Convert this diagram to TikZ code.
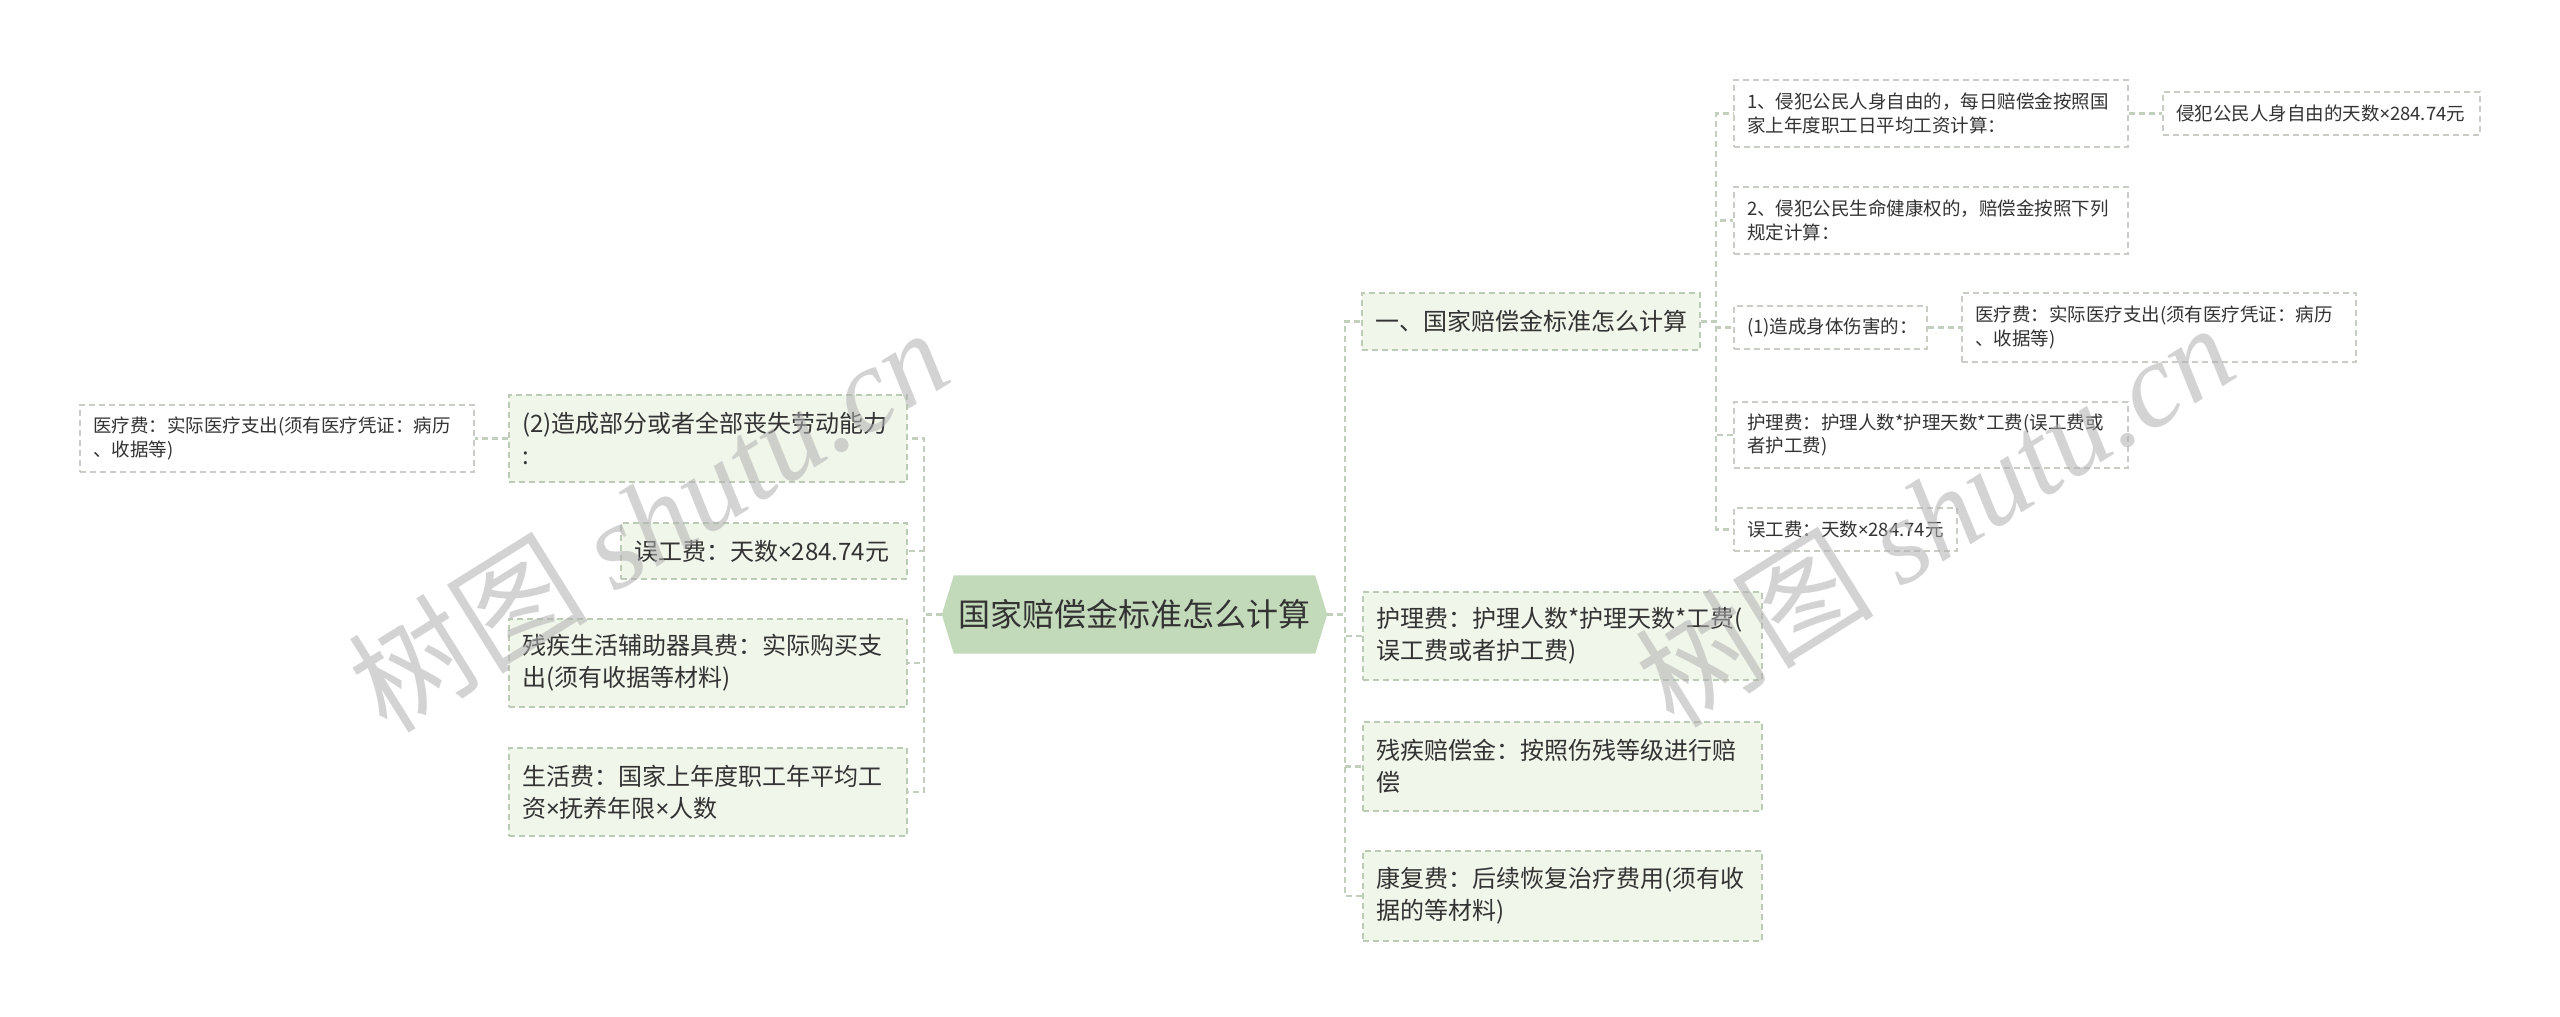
\documentclass[tikz,border=0pt]{standalone}
\usepackage{fontspec}
\setmainfont{Noto Sans CJK SC}
\newfontfamily\wmserif{Liberation Serif}
\newfontfamily\lat{Noto Sans}
\usetikzlibrary{backgrounds}
\definecolor{rootfill}{HTML}{C3DABA}
\definecolor{lvfill}{HTML}{F0F6EA}
\definecolor{lvborder}{HTML}{BCCBB5}
\definecolor{leafborder}{HTML}{C8CDC5}
\definecolor{linkc}{HTML}{C2CFBD}
\definecolor{txt}{HTML}{333333}
\definecolor{wm}{HTML}{B0B0B0}
\newcommand{\mul}{{\lat ×}}
\begin{document}
\begin{tikzpicture}[x=1pt,y=-1pt,
 every node/.style={text=txt, inner ysep=0pt, inner xsep=13pt, align=left},
 rootnode/.style={minimum width=385pt, minimum height=78pt, inner xsep=0pt, align=center, font=\fontsize{32}{38}\selectfont},
 midbox/.style={draw=lvborder, fill=lvfill, dash pattern=on 6pt off 4pt, line width=1.8pt, font=\fontsize{24}{32}\selectfont},
 leafbox/.style={draw=leafborder, fill=white, dash pattern=on 6pt off 4pt, line width=1.8pt, font=\fontsize{18.5}{23.5}\selectfont},
 link/.style={draw=linkc, line width=2.2pt, dash pattern=on 6pt off 4pt},
 wmark/.style={text=wm, opacity=0.55, rotate=32, inner sep=0pt}
]
\useasboundingbox (0,0) rectangle (2560,1017);

% root
\node[rootnode] (root) at (1134.5,614.5) {国家赔偿金标准怎么计算};
\begin{scope}[on background layer]
\fill[white] (0,0) rectangle (2560,1017);
\fill[rootfill] (root.west) -- ([xshift=12pt]root.north west) -- ([xshift=-12pt]root.north east) -- (root.east) -- ([xshift=-12pt]root.south east) -- ([xshift=12pt]root.south west) -- cycle;
\end{scope}

% left side
\node[midbox, text width=372pt, minimum height=87pt] (L1) at (708,438.5) {(2)造成部分或者全部丧失劳动能力\\:};
\node[midbox, text width=260pt, minimum height=56pt] (L2) at (764,551) {误工费：天数\mul{}284.74元};
\node[midbox, text width=372pt, minimum height=88pt] (L3) at (708,663) {残疾生活辅助器具费：实际购买支\\出(须有收据等材料)};
\node[midbox, text width=372pt, minimum height=88pt] (L4) at (708,792) {生活费：国家上年度职工年平均工\\资\mul{}抚养年限\mul{}人数};
\node[leafbox, text width=368pt, minimum height=67pt] (LL1) at (277,438.5) {医疗费：实际医疗支出(须有医疗凭证：病历\\、收据等)};

% right side
\node[midbox, text width=312pt, minimum height=57pt] (R1) at (1531,321.5) {一、国家赔偿金标准怎么计算};
\node[midbox, text width=373pt, minimum height=88pt] (R2) at (1562.5,636) {护理费：护理人数*护理天数*工费(\\误工费或者护工费)};
\node[midbox, text width=373pt, minimum height=89pt] (R3) at (1562.5,766.5) {残疾赔偿金：按照伤残等级进行赔\\偿};
\node[midbox, text width=373pt, minimum height=90pt] (R4) at (1562.5,896) {康复费：后续恢复治疗费用(须有收\\据的等材料)};

% level 3
\node[leafbox, text width=368pt, minimum height=67pt] (A1) at (1931,113.5) {1、侵犯公民人身自由的，每日赔偿金按照国\\家上年度职工日平均工资计算：};
\node[leafbox, text width=368pt, minimum height=67pt] (A2) at (1931,220.5) {2、侵犯公民生命健康权的，赔偿金按照下列\\规定计算：};
\node[leafbox, text width=167pt, minimum height=43pt] (A3) at (1830.5,327.5) {(1)造成身体伤害的：};
\node[leafbox, text width=368pt, minimum height=66pt] (A4) at (1931,435) {护理费：护理人数*护理天数*工费(误工费或\\者护工费)};
\node[leafbox, text width=197pt, minimum height=43pt] (A5) at (1845.5,529.5) {误工费：天数\mul{}284.74元};
\node[leafbox, text width=291pt, minimum height=43pt] (A1c) at (2321.5,113.5) {侵犯公民人身自由的天数\mul{}284.74元};
\node[leafbox, text width=368pt, minimum height=69pt] (A3c) at (2159,327.5) {医疗费：实际医疗支出(须有医疗凭证：病历\\、收据等)};

% bus coordinates
\coordinate (lbus) at (924,614.5);
\coordinate (rbus) at (1345,614.5);
\coordinate (abus) at (1716,321.5);

% connectors
\foreach \c in {L1,L2,L3,L4}{
  \draw[link] (root.west) -- (lbus) |- (\c.east);
}
\foreach \c in {R1,R2,R3,R4}{
  \draw[link] (root.east) -- (rbus) |- (\c.west);
}
\foreach \c in {A1,A2,A3,A4,A5}{
  \draw[link] (R1.east) -- (abus) |- (\c.west);
}
\draw[link] (L1.west) -- (LL1.east);
\draw[link] (A1.east) -- (A1c.west);
\draw[link] (A3.east) -- (A3c.west);

% watermarks
\node[wmark, font=\fontsize{120}{130}\selectfont] (wm1) at (648,519) {树图 {\wmserif\itshape shutu.cn}};
\node[wmark, font=\fontsize{120}{130}\selectfont] (wm2) at (1934,514) {树图 {\wmserif\itshape shutu.cn}};
\end{tikzpicture}
\end{document}
